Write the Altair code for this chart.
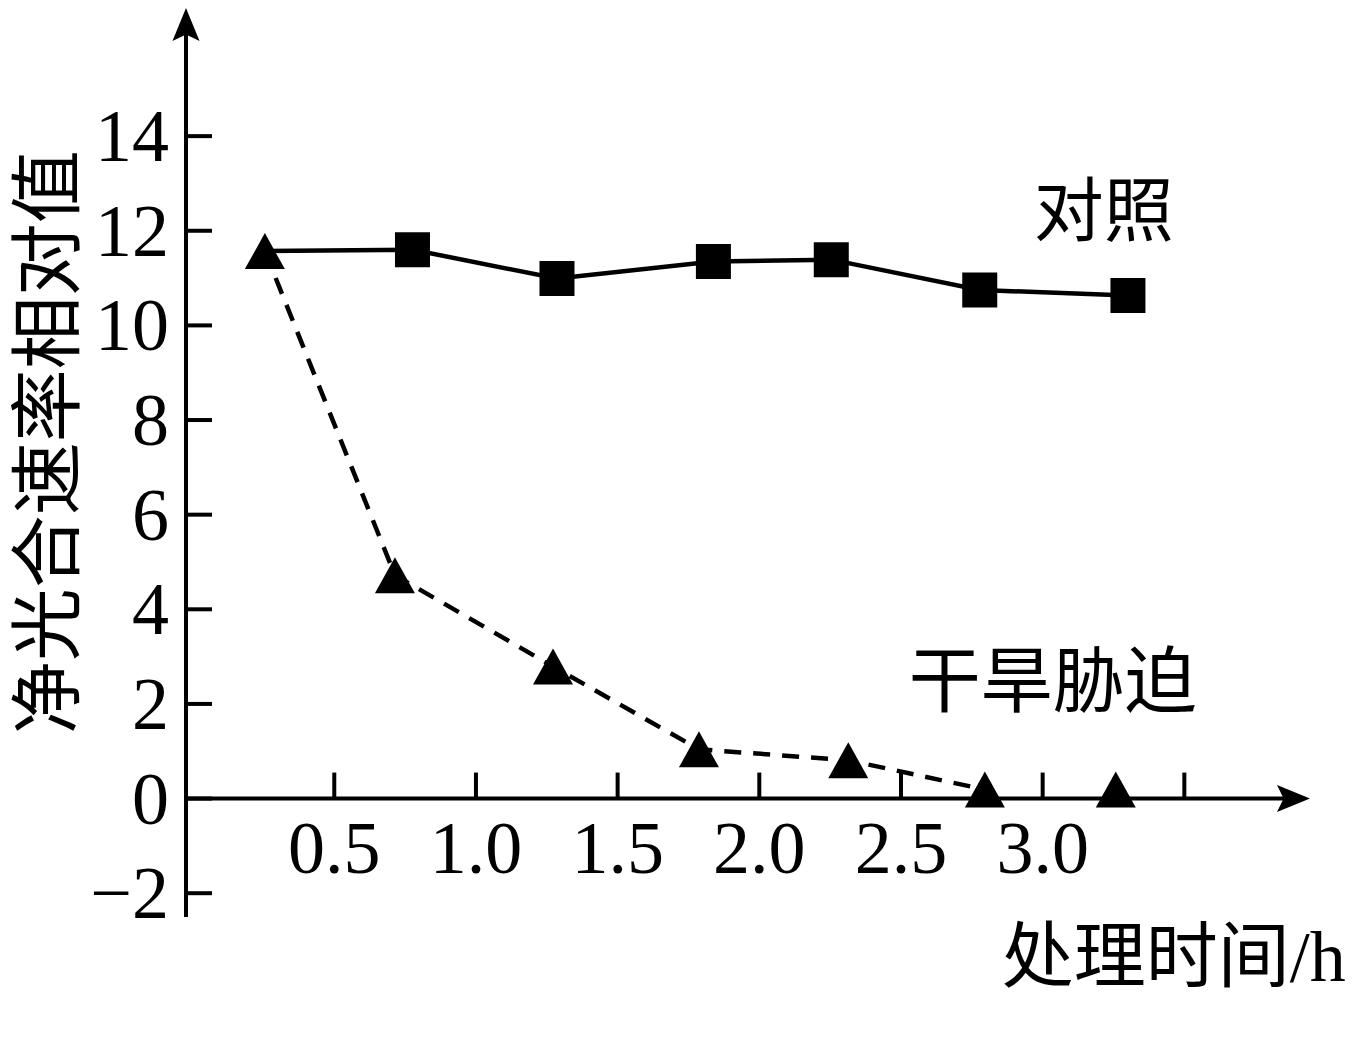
import altair as alt
import pandas as pd

# ---------------- data ----------------
start_time = 0.255          # shared first point of both series (h)
start_value = 11.57
ctrl_time = [0.776, 1.286, 1.838, 2.254, 2.778, 3.301]
ctrl_value = [11.60, 10.99, 11.35, 11.39, 10.75, 10.63]
drought_time = [0.714, 1.272, 1.787, 2.314, 2.796, 3.258]
drought_value = [4.72, 2.79, 1.04, 0.81, 0.19, 0.19]
drought_line_points = 5     # the dashed line stops at the 2.8 h point

x_ticks = [0.5, 1.0, 1.5, 2.0, 2.5, 3.0, 3.5]
x_tick_labels = ["0.5", "1.0", "1.5", "2.0", "2.5", "3.0", ""]
y_ticks = [-2, 0, 2, 4, 6, 8, 10, 12, 14]
y_tick_labels = ["\u22122", "0", "2", "4", "6", "8", "10", "12", "14"]

ctrl_label = "对照"
drought_label = "干旱胁迫"
x_title = "处理时间/h"
y_title = "净光合速率相对值"

# ---------------- layout ----------------
XMIN, XMAX = -0.0233, 3.9435
YMIN, YMAX = -2.503, 16.708
W, H = 1124, 909
PX_X = W / (XMAX - XMIN)
PX_Y = H / (YMAX - YMIN)

xs = alt.Scale(domain=[XMIN, XMAX], nice=False, zero=False)
ys = alt.Scale(domain=[YMIN, YMAX], nice=False, zero=False)

SERIF = "Liberation Serif"
CJK = "Noto Sans CJK SC"
BLACK = "#000000"


def X(field=None, datum=None):
    if datum is not None:
        return alt.X(datum=datum, type="quantitative", scale=xs, axis=None)
    return alt.X(field, type="quantitative", scale=xs, axis=None)


def Y(field=None, datum=None):
    if datum is not None:
        return alt.Y(datum=datum, type="quantitative", scale=ys, axis=None)
    return alt.Y(field, type="quantitative", scale=ys, axis=None)


# tables
ctrl_line_df = pd.DataFrame({"t": [start_time] + ctrl_time,
                             "v": [start_value] + ctrl_value})
ctrl_pts_df = pd.DataFrame({"t": ctrl_time, "v": ctrl_value})
dr_line_df = pd.DataFrame({"t": [start_time] + drought_time[:drought_line_points],
                           "v": [start_value] + drought_value[:drought_line_points]})
dr_pts_df = pd.DataFrame({"t": [start_time] + drought_time,
                          "v": [start_value] + drought_value})
xt_df = pd.DataFrame({"v": x_ticks, "lab": x_tick_labels})
yt_df = pd.DataFrame({"v": y_ticks, "lab": y_tick_labels})
one = pd.DataFrame({"a": [0]})

TICK_LEN = 26  # px

# axes
x_axis_line = alt.Chart(one).mark_rule(color=BLACK, strokeWidth=4).encode(
    x=X(datum=XMIN), x2=alt.X2(datum=XMAX - 20 / PX_X), y=Y(datum=0))
y_axis_line = alt.Chart(one).mark_rule(color=BLACK, strokeWidth=4).encode(
    x=X(datum=XMIN), y=Y(datum=YMIN), y2=alt.Y2(datum=YMAX - 20 / PX_Y))
x_tick_marks = alt.Chart(xt_df).mark_rule(color=BLACK, strokeWidth=4).encode(
    x=X("v"), y=Y(datum=0), y2=alt.Y2(datum=TICK_LEN / PX_Y))
y_tick_marks = alt.Chart(yt_df).mark_rule(color=BLACK, strokeWidth=4).encode(
    y=Y("v"), x=X(datum=XMIN), x2=alt.X2(datum=XMIN + TICK_LEN / PX_X))
x_tick_text = alt.Chart(xt_df).mark_text(
    font=SERIF, fontSize=74, align="center", baseline="alphabetic", dy=74,
    color=BLACK).encode(x=X("v"), y=Y(datum=0), text="lab:N")
y_tick_text = alt.Chart(yt_df).mark_text(
    font=SERIF, fontSize=74, align="right", baseline="alphabetic", dy=25,
    color=BLACK).encode(x=X(datum=XMIN - 17 / PX_X), y=Y("v"), text="lab:N")

up_arrow = alt.Chart(one).mark_point(
    shape="M0,0L0.82,2L0,1.6L-0.82,2Z", size=1089, filled=True,
    color=BLACK, opacity=1, strokeWidth=0).encode(x=X(datum=XMIN), y=Y(datum=YMAX))
right_arrow = alt.Chart(one).mark_point(
    shape="M0,0L-2,-0.82L-1.6,0L-2,0.82Z", size=1089, filled=True,
    color=BLACK, opacity=1, strokeWidth=0).encode(x=X(datum=XMAX), y=Y(datum=0))

# series
ctrl_line = alt.Chart(ctrl_line_df).mark_line(color=BLACK, strokeWidth=4.5).encode(
    x=X("t"), y=Y("v"), order="t:Q")
dr_line = alt.Chart(dr_line_df).mark_line(
    color=BLACK, strokeWidth=4.5, strokeDash=[17, 12]).encode(
    x=X("t"), y=Y("v"), order="t:Q")
ctrl_pts = alt.Chart(ctrl_pts_df).mark_point(
    shape="square", size=1225, filled=True, color=BLACK, opacity=1,
    strokeWidth=0).encode(x=X("t"), y=Y("v"))
dr_pts = alt.Chart(dr_pts_df).mark_point(
    shape="M0,-0.9L1,0.9L-1,0.9Z", size=1600, filled=True, color=BLACK,
    opacity=1, strokeWidth=0).encode(x=X("t"), y=Y("v"))

# texts
def label(text, x, y, font, size, align="center", angle=0, baseline="alphabetic"):
    df = pd.DataFrame({"x": [x], "y": [y], "s": [text]})
    kw = dict(font=font, fontSize=size, align=align, baseline=baseline, color=BLACK)
    if angle:
        kw["angle"] = angle
    return alt.Chart(df).mark_text(**kw).encode(x=X("x"), y=Y("y"), text="s:N")


ctrl_text = label(ctrl_label, 3.216, 11.89, CJK, 70)
dr_text = label(drought_label, 3.036, 1.953, CJK, 72)
x_title_text = label(x_title, 2.856, -3.852, SERIF + ", " + CJK, 72, align="left")
y_title_text = label(y_title, -0.498, 7.53, CJK, 73, angle=270, baseline="middle")

chart = alt.layer(
    y_axis_line, x_axis_line, x_tick_marks, y_tick_marks, up_arrow, right_arrow,
    x_tick_text, y_tick_text,
    ctrl_line, dr_line, ctrl_pts, dr_pts,
    ctrl_text, dr_text, x_title_text, y_title_text,
).properties(
    width=W, height=H,
    padding={"left": 178, "top": 0, "right": 36, "bottom": 120},
    autosize=alt.AutoSizeParams(type="none"),
    background="white",
).configure_view(stroke=None)

chart.save("out.html", embed_options={"renderer": "svg", "actions": False})
